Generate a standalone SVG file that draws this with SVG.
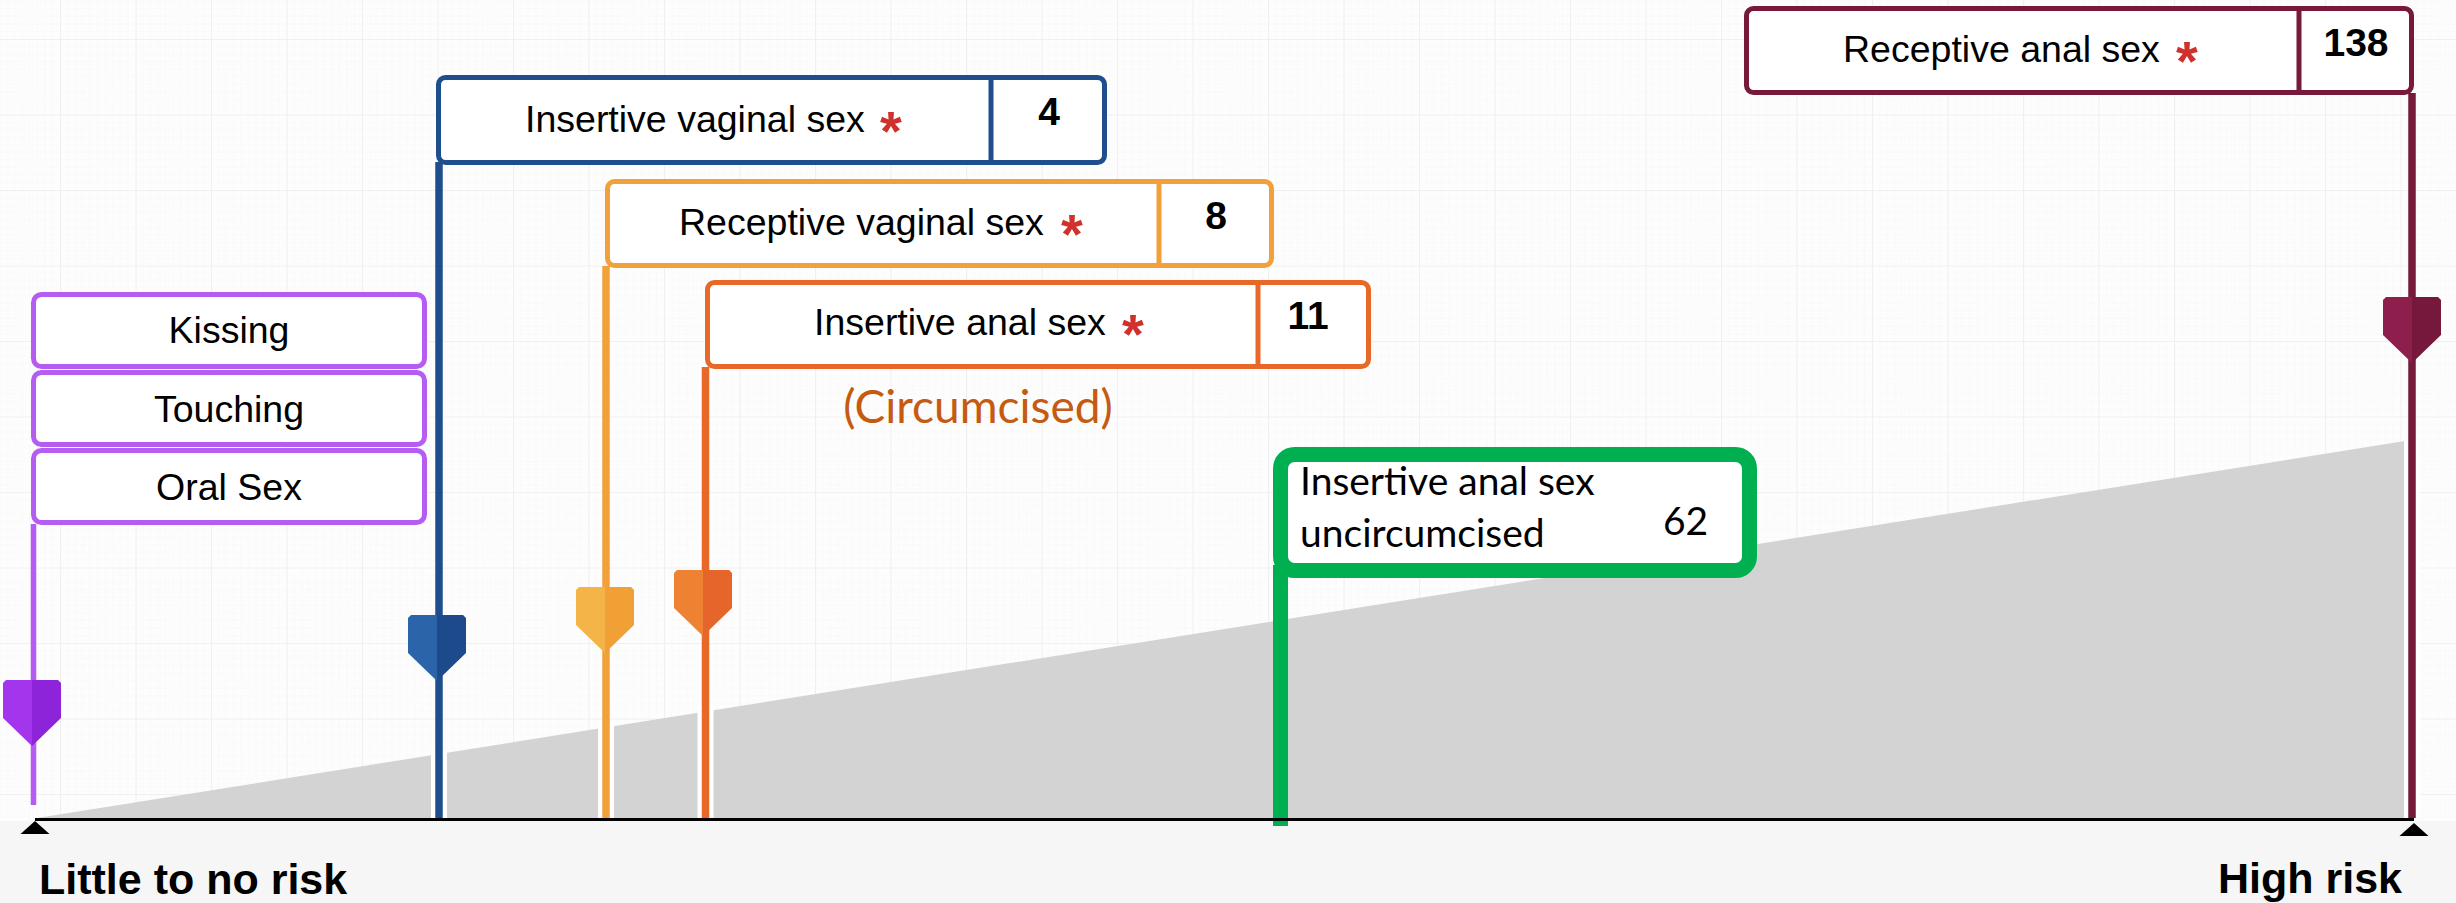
<svg xmlns="http://www.w3.org/2000/svg" xmlns:xlink="http://www.w3.org/1999/xlink" width="2456" height="903" viewBox="0 0 2456 903">
<style>
.lbl{font-family:"Liberation Sans",Arial,sans-serif;font-size:37.5px;fill:#000}
.num{font-family:"Liberation Sans",Arial,sans-serif;font-size:39px;font-weight:bold;fill:#000;text-anchor:middle}
.ast{font-family:"Liberation Sans",Arial,sans-serif;font-size:56px;font-weight:bold;fill:#d0312d;text-anchor:middle}
.cal{font-family:Lato,"Noto Sans",sans-serif}
.axis{font-family:"Liberation Sans",Arial,sans-serif;font-size:43px;font-weight:bold;fill:#000}
.box{fill:#fff;stroke-width:5}
.conn{fill:none}
</style>
<defs>
<pattern id="grid" patternUnits="userSpaceOnUse" x="60" y="39" width="75.5" height="75.5">
<rect width="75.5" height="75.5" fill="#fdfdfd"/>
<path d="M7.55 0V75.5M15.1 0V75.5M22.65 0V75.5M30.2 0V75.5M37.75 0V75.5M45.3 0V75.5M52.85 0V75.5M60.4 0V75.5M67.95 0V75.5M0 7.55H75.5M0 15.1H75.5M0 22.65H75.5M0 30.2H75.5M0 37.75H75.5M0 45.3H75.5M0 52.85H75.5M0 60.4H75.5M0 67.95H75.5" stroke="#f8f8f8" stroke-width="1" stroke-dasharray="2 2"/>
<path d="M0 0V75.5M0 0H75.5" stroke="#f0f0f0" stroke-width="2"/>
</pattern>
<polygon id="mL" points="-29,3 -26,0 0,0 0,66 -29,38"/>
<polygon id="mR" points="0,0 26,0 29,3 29,38 0,66"/>
<polygon id="tri" points="-14.5,13 14.5,13 0,0"/>
</defs>

<rect width="2456" height="903" fill="url(#grid)"/>
<rect x="0" y="821" width="2456" height="82" fill="#f6f6f6"/>
<polygon points="37,818 2405,441 2405,818" fill="#d3d3d3"/>

<g id="connectors">
<g stroke="#ffffff" stroke-width="16" class="conn">
<line x1="439" y1="750" x2="439" y2="818"/>
<line x1="606" y1="722" x2="606" y2="818"/>
<line x1="705.5" y1="706" x2="705.5" y2="818"/>
<line x1="2412" y1="440" x2="2412" y2="818"/>
</g>
<line class="conn" x1="33.5" y1="524" x2="33.5" y2="805" stroke="#b55cf2" stroke-width="5.5"/>
<line class="conn" x1="439" y1="162" x2="439" y2="818" stroke="#1f4e8c" stroke-width="7.5"/>
<line class="conn" x1="606" y1="266" x2="606" y2="818" stroke="#f2a03a" stroke-width="7.5"/>
<line class="conn" x1="705.5" y1="367" x2="705.5" y2="818" stroke="#e8682a" stroke-width="7.5"/>
<line class="conn" x1="2412" y1="93" x2="2412" y2="818" stroke="#76193a" stroke-width="7.5"/>
<line class="conn" x1="1280.5" y1="565" x2="1280.5" y2="826" stroke="#00b050" stroke-width="15"/>
</g>

<g id="markers">
<g transform="translate(32,680)"><use xlink:href="#mL" fill="#a336ec"/><use xlink:href="#mR" fill="#8d24da"/></g>
<g transform="translate(437,615)"><use xlink:href="#mL" fill="#2b64a8"/><use xlink:href="#mR" fill="#1d4a8b"/></g>
<g transform="translate(605,587)"><use xlink:href="#mL" fill="#f4b447"/><use xlink:href="#mR" fill="#f0a035"/></g>
<g transform="translate(703,570)"><use xlink:href="#mL" fill="#ef8132"/><use xlink:href="#mR" fill="#e6652a"/></g>
<g transform="translate(2412,297)"><use xlink:href="#mL" fill="#8e1e4c"/><use xlink:href="#mR" fill="#76183b"/></g>
</g>

<g id="axis">
<line x1="35" y1="819.5" x2="2414" y2="819.5" stroke="#000" stroke-width="3"/>
<use xlink:href="#tri" x="35" y="821" fill="#000"/>
<use xlink:href="#tri" x="2414" y="823" fill="#000"/>
<text class="axis" x="39" y="894">Little to no risk</text>
<text class="axis" x="2402" y="893" text-anchor="end">High risk</text>
</g>

<g id="kissing">
<rect class="box" x="33.5" y="294.5" width="391" height="72" rx="8" stroke="#b55cf2"/>
<text class="lbl" x="229" y="343" text-anchor="middle">Kissing</text>
</g>
<g id="touching">
<rect class="box" x="33.5" y="372.5" width="391" height="72" rx="8" stroke="#b55cf2"/>
<text class="lbl" x="229" y="422" text-anchor="middle">Touching</text>
</g>
<g id="oral-sex">
<rect class="box" x="33.5" y="450.5" width="391" height="72" rx="8" stroke="#b55cf2"/>
<text class="lbl" x="229" y="500" text-anchor="middle">Oral Sex</text>
</g>

<g id="insertive-vaginal">
<rect class="box" x="438.5" y="77.5" width="666" height="85" rx="7" stroke="#1f4e8c"/>
<line x1="991" y1="77.5" x2="991" y2="162.5" stroke="#1f4e8c" stroke-width="5"/>
<text class="lbl" x="525" y="132">Insertive vaginal sex</text>
<text class="ast" x="891" y="150">*</text>
<text class="num" x="1049" y="125">4</text>
</g>

<g id="receptive-vaginal">
<rect class="box" x="607.5" y="181.5" width="664" height="84" rx="7" stroke="#f2a03a"/>
<line x1="1159" y1="181.5" x2="1159" y2="265.5" stroke="#f2a03a" stroke-width="5"/>
<text class="lbl" x="679" y="235">Receptive vaginal sex</text>
<text class="ast" x="1072" y="253">*</text>
<text class="num" x="1216" y="229">8</text>
</g>

<g id="insertive-anal">
<rect class="box" x="707.5" y="282.5" width="661" height="84" rx="7" stroke="#e8682a"/>
<line x1="1258" y1="282.5" x2="1258" y2="366.5" stroke="#e8682a" stroke-width="5"/>
<text class="lbl" x="814" y="335">Insertive anal sex</text>
<text class="ast" x="1133" y="353">*</text>
<text class="num" x="1308" y="329">11</text>
<text class="cal" x="978" y="423" text-anchor="middle" font-size="46" fill="#c55a11">(Circumcised)</text>
</g>

<g id="receptive-anal">
<rect class="box" x="1746.5" y="8.5" width="665" height="84" rx="7" stroke="#76193a"/>
<line x1="2299" y1="8.5" x2="2299" y2="92.5" stroke="#76193a" stroke-width="5"/>
<text class="lbl" x="1843" y="62">Receptive anal sex</text>
<text class="ast" x="2187" y="80">*</text>
<text class="num" x="2356" y="56">138</text>
</g>

<g id="insertive-anal-uncircumcised">
<rect x="1280.5" y="454.5" width="469" height="116" rx="14" fill="#fff" stroke="#00b050" stroke-width="15"/>
<text class="cal" x="1300" y="495" font-size="39" fill="#000">Insertive anal sex</text>
<text class="cal" x="1300" y="547" font-size="39" fill="#000">uncircumcised</text>
<text class="cal" x="1663" y="535" font-size="39" fill="#000">62</text>
</g>
</svg>
